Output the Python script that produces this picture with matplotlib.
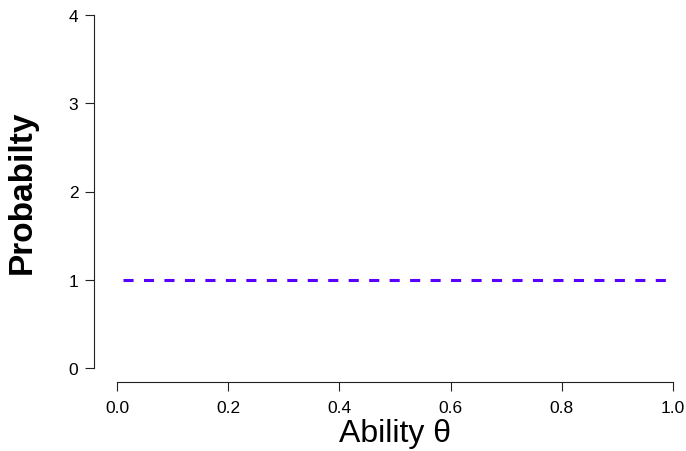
import matplotlib
matplotlib.use('Agg')
import matplotlib.pyplot as plt

theta = [0.01, 0.99]
prob = [1, 1]
xticks = [0.0, 0.2, 0.4, 0.6, 0.8, 1.0]
xlabels = ['0.0', '0.2', '0.4', '0.6', '0.8', '1.0']
yticks = [0, 1, 2, 3, 4]

plt.rcParams['font.family'] = ['Liberation Sans', 'DejaVu Sans']

W, H = 686, 452
fig = plt.figure(figsize=(W / 100, H / 100), dpi=100)
# axes box in pixels: left spine at x=94, bottom spine at y=383
left, right, top, bottom = 94, 684, 12, 383
ax = fig.add_axes([left / W, 1 - bottom / H, (right - left) / W, (bottom - top) / H])

ax.plot(theta, prob, color='#5a00ff', lw=2.2, ls=(0, (3.3, 3.4)), dash_capstyle='butt')

# pixel mapping: x 0 -> 117, 1 -> 673 ; y 0 -> 369, 4 -> 16
xpx = 556.0
ypx = (369 - 16) / 4.0
ax.set_xlim((left - 117) / xpx, (right - 117) / xpx)
ax.set_ylim((369 - bottom) / ypx, (369 - top) / ypx)

for s in ['top', 'right']:
    ax.spines[s].set_visible(False)
ax.spines['left'].set_bounds(0, 4)
ax.spines['bottom'].set_bounds(0, 1)
for s in ['left', 'bottom']:
    ax.spines[s].set_linewidth(0.8)
    ax.spines[s].set_color('#222222')

ax.set_xticks(xticks)
ax.set_xticklabels(xlabels)
ax.set_yticks(yticks)
ax.tick_params(direction='out', length=6.3, width=0.8, color='#222222', labelsize=12.5)
ax.tick_params(axis='x', pad=6.5)
ax.tick_params(axis='y', pad=5)

ax.set_xlabel('Ability θ', fontsize=23, labelpad=2)
ax.set_ylabel('Probabilty', fontsize=24, fontweight='bold', labelpad=22)
# centre labels on the drawn axis ranges, not the axes box
ax.xaxis.label.set_x((395 - left) / (right - left))
ax.yaxis.label.set_y((bottom - 192.5) / (bottom - top))

fig.savefig('out.png', dpi=100)
